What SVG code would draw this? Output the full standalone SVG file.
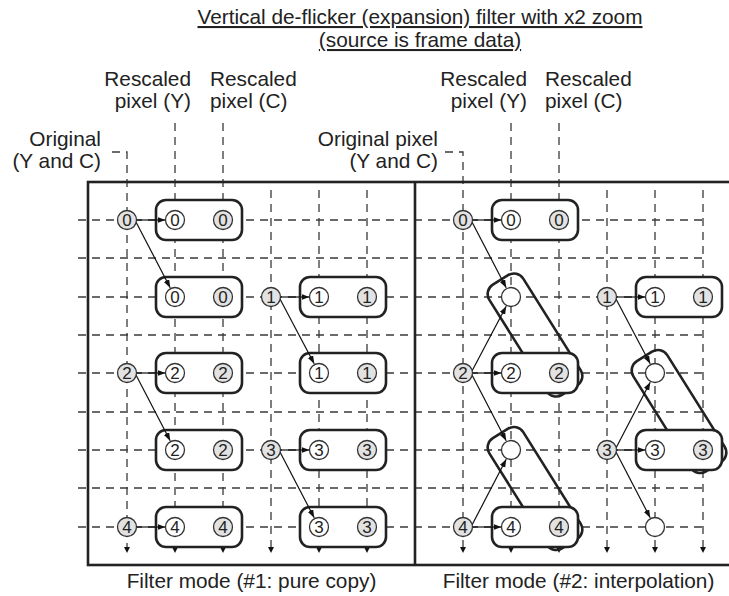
<svg xmlns="http://www.w3.org/2000/svg" width="729" height="596" viewBox="0 0 729 596">
<defs>
<marker id="ah" markerUnits="userSpaceOnUse" markerWidth="9" markerHeight="7" refX="8" refY="3" orient="auto"><path d="M0,0 L8,3 L0,6 z" fill="#111"/></marker>
<marker id="dh" markerUnits="userSpaceOnUse" markerWidth="8" markerHeight="7" refX="6" refY="3" orient="auto"><path d="M0,0 L6,3 L0,6 z" fill="#111"/></marker>
</defs>
<style>
text{font-family:"Liberation Sans",Arial,sans-serif;fill:#222}
.lbl{font-size:20.8px}
.dig{font-size:17px;text-anchor:middle}
.grid{stroke:#3a3a3a;stroke-width:1.3;stroke-dasharray:8 6;fill:none}
.vl{stroke:#3a3a3a;stroke-width:1.3;stroke-dasharray:8 6;fill:none;marker-end:url(#dh)}
.arr{stroke:#111;stroke-width:1.2;fill:none;marker-end:url(#ah)}
.box{fill:#fff;stroke:#222;stroke-width:2.6}
.sbox{fill:none;stroke:#222;stroke-width:2.6}
.g{fill:#e2e2e2;stroke:#333;stroke-width:1.3}
.w{fill:#fff;stroke:#333;stroke-width:1.3}
.frame{fill:none;stroke:#222;stroke-width:2.6}
</style>
<g id="titles">
<text class="lbl" x="420" y="24" text-anchor="middle" text-decoration="underline">Vertical de-flicker (expansion) filter with x2 zoom</text>
<text class="lbl" x="420" y="47" text-anchor="middle" text-decoration="underline">(source is frame data)</text>
<text class="lbl" x="191" y="86" text-anchor="end">Rescaled</text>
<text class="lbl" x="191" y="108" text-anchor="end">pixel (Y)</text>
<text class="lbl" x="210" y="86">Rescaled</text>
<text class="lbl" x="210" y="108">pixel (C)</text>
<text class="lbl" x="101" y="146" text-anchor="end">Original</text>
<text class="lbl" x="101" y="168" text-anchor="end">(Y and C)</text>
<text class="lbl" x="527" y="86" text-anchor="end">Rescaled</text>
<text class="lbl" x="527" y="108" text-anchor="end">pixel (Y)</text>
<text class="lbl" x="545" y="86">Rescaled</text>
<text class="lbl" x="545" y="108">pixel (C)</text>
<text class="lbl" x="438" y="146" text-anchor="end">Original pixel</text>
<text class="lbl" x="438" y="168" text-anchor="end">(Y and C)</text>
<text class="lbl" x="251.5" y="588" text-anchor="middle">Filter mode (#1: pure copy)</text>
<text class="lbl" x="578.5" y="588" text-anchor="middle">Filter mode (#2: interpolation)</text>
</g>
<g id="connectors">
<path class="grid" d="M78,220H703M78,258H703M78,297H703M78,335H703M78,373H703M78,412H703M78,450H703M78,488H703M78,527H703"/>
<path class="vl" d="M112,152H127V553"/>
<path class="vl" d="M445,152H463V553"/>
<path class="vl" d="M175,123V553"/>
<path class="vl" d="M223,123V553"/>
<path class="vl" d="M511,123V553"/>
<path class="vl" d="M559,123V553"/>
<path class="vl" d="M271,190V553"/>
<path class="vl" d="M319,190V553"/>
<path class="vl" d="M367,190V553"/>
<path class="vl" d="M607,190V553"/>
<path class="vl" d="M655,190V553"/>
<path class="vl" d="M703,190V553"/>
<rect class="frame" x="88" y="182" width="660" height="383"/>
<line x1="415" y1="182" x2="415" y2="565" stroke="#222" stroke-width="2.6"/>
</g>
<g id="slanted">
<rect class="sbox" x="-65" y="-20" width="130" height="40" rx="11" transform="translate(535,335) rotate(57.9)"/>
<rect class="sbox" x="-65" y="-20" width="130" height="40" rx="11" transform="translate(535,488.5) rotate(57.9)"/>
<rect class="sbox" x="-65" y="-20" width="130" height="40" rx="11" transform="translate(679,411.5) rotate(57.9)"/>
</g>
<g id="boxes">
<rect id="L-r0" class="box" x="156" y="200" width="86" height="40" rx="10"/>
<rect id="L-r1" class="box" x="156" y="277" width="86" height="40" rx="10"/>
<rect id="L-r2" class="box" x="156" y="353" width="86" height="40" rx="10"/>
<rect id="L-r3" class="box" x="156" y="430" width="86" height="40" rx="10"/>
<rect id="L-r4" class="box" x="156" y="507" width="86" height="40" rx="10"/>
<rect id="L2-r1" class="box" x="300" y="277" width="86" height="40" rx="10"/>
<rect id="L2-r2" class="box" x="300" y="353" width="86" height="40" rx="10"/>
<rect id="L2-r3" class="box" x="300" y="430" width="86" height="40" rx="10"/>
<rect id="L2-r4" class="box" x="300" y="507" width="86" height="40" rx="10"/>
<rect id="R-r0" class="box" x="492" y="200" width="86" height="40" rx="10"/>
<rect id="R-r2" class="box" x="492" y="353" width="86" height="40" rx="10"/>
<rect id="R-r4" class="box" x="492" y="507" width="86" height="40" rx="10"/>
<rect id="R2-r1" class="box" x="636" y="277" width="86" height="40" rx="10"/>
<rect id="R2-r3" class="box" x="636" y="430" width="86" height="40" rx="10"/>
</g>
<g id="arrows">
<path class="arr" d="M136.5,220H165.5"/>
<path class="arr" d="M136,222L170.2,287.7"/>
<path class="arr" d="M136.5,373H165.5"/>
<path class="arr" d="M136,375L170.2,440.7"/>
<path class="arr" d="M136.5,527H165.5"/>
<path class="arr" d="M280.5,297H309.5"/>
<path class="arr" d="M280,299L314.2,363.7"/>
<path class="arr" d="M280.5,450H309.5"/>
<path class="arr" d="M280,452L314.2,517.7"/>
<path class="arr" d="M472.5,220H501.5"/>
<path class="arr" d="M472,222L506.2,287.7"/>
<path class="arr" d="M472,371L506.2,306.3"/>
<path class="arr" d="M472.5,373H501.5"/>
<path class="arr" d="M472,375L506.2,440.7"/>
<path class="arr" d="M472,525L506.2,459.3"/>
<path class="arr" d="M472.5,527H501.5"/>
<path class="arr" d="M616.5,297H645.5"/>
<path class="arr" d="M616,299L650.2,363.7"/>
<path class="arr" d="M616,448L650.2,382.3"/>
<path class="arr" d="M616.5,450H645.5"/>
<path class="arr" d="M616,452L650.2,517.7"/>
</g>
<g id="pixels">
<g id="L-o0"><circle class="g" cx="127" cy="220" r="9.5"/><text class="dig" x="127" y="226">0</text></g>
<g id="L-o2"><circle class="g" cx="127" cy="373" r="9.5"/><text class="dig" x="127" y="379">2</text></g>
<g id="L-o4"><circle class="g" cx="127" cy="527" r="9.5"/><text class="dig" x="127" y="533">4</text></g>
<g id="L-o1"><circle class="g" cx="271" cy="297" r="9.5"/><text class="dig" x="271" y="303">1</text></g>
<g id="L-o3"><circle class="g" cx="271" cy="450" r="9.5"/><text class="dig" x="271" y="456">3</text></g>
<g id="L-y0"><circle class="w" cx="175" cy="220" r="9.5"/><text class="dig" x="175" y="226">0</text><circle class="g" cx="223" cy="220" r="9.5"/><text class="dig" x="223" y="226">0</text></g>
<g id="L-y1"><circle class="w" cx="175" cy="297" r="9.5"/><text class="dig" x="175" y="303">0</text><circle class="g" cx="223" cy="297" r="9.5"/><text class="dig" x="223" y="303">0</text></g>
<g id="L-y2"><circle class="w" cx="175" cy="373" r="9.5"/><text class="dig" x="175" y="379">2</text><circle class="g" cx="223" cy="373" r="9.5"/><text class="dig" x="223" y="379">2</text></g>
<g id="L-y3"><circle class="w" cx="175" cy="450" r="9.5"/><text class="dig" x="175" y="456">2</text><circle class="g" cx="223" cy="450" r="9.5"/><text class="dig" x="223" y="456">2</text></g>
<g id="L-y4"><circle class="w" cx="175" cy="527" r="9.5"/><text class="dig" x="175" y="533">4</text><circle class="g" cx="223" cy="527" r="9.5"/><text class="dig" x="223" y="533">4</text></g>
<g id="L2-y1"><circle class="w" cx="319" cy="297" r="9.5"/><text class="dig" x="319" y="303">1</text><circle class="g" cx="367" cy="297" r="9.5"/><text class="dig" x="367" y="303">1</text></g>
<g id="L2-y2"><circle class="w" cx="319" cy="373" r="9.5"/><text class="dig" x="319" y="379">1</text><circle class="g" cx="367" cy="373" r="9.5"/><text class="dig" x="367" y="379">1</text></g>
<g id="L2-y3"><circle class="w" cx="319" cy="450" r="9.5"/><text class="dig" x="319" y="456">3</text><circle class="g" cx="367" cy="450" r="9.5"/><text class="dig" x="367" y="456">3</text></g>
<g id="L2-y4"><circle class="w" cx="319" cy="527" r="9.5"/><text class="dig" x="319" y="533">3</text><circle class="g" cx="367" cy="527" r="9.5"/><text class="dig" x="367" y="533">3</text></g>
<g id="R-o0"><circle class="g" cx="463" cy="220" r="9.5"/><text class="dig" x="463" y="226">0</text></g>
<g id="R-o2"><circle class="g" cx="463" cy="373" r="9.5"/><text class="dig" x="463" y="379">2</text></g>
<g id="R-o4"><circle class="g" cx="463" cy="527" r="9.5"/><text class="dig" x="463" y="533">4</text></g>
<g id="R-o1"><circle class="g" cx="607" cy="297" r="9.5"/><text class="dig" x="607" y="303">1</text></g>
<g id="R-o3"><circle class="g" cx="607" cy="450" r="9.5"/><text class="dig" x="607" y="456">3</text></g>
<g id="R-y0"><circle class="w" cx="511" cy="220" r="9.5"/><text class="dig" x="511" y="226">0</text><circle class="g" cx="559" cy="220" r="9.5"/><text class="dig" x="559" y="226">0</text></g>
<g id="R-i1"><circle class="w" cx="511" cy="297" r="9.5"/></g>
<g id="R-y2"><circle class="w" cx="511" cy="373" r="9.5"/><text class="dig" x="511" y="379">2</text><circle class="g" cx="559" cy="373" r="9.5"/><text class="dig" x="559" y="379">2</text></g>
<g id="R-i3"><circle class="w" cx="511" cy="450" r="9.5"/></g>
<g id="R-y4"><circle class="w" cx="511" cy="527" r="9.5"/><text class="dig" x="511" y="533">4</text><circle class="g" cx="559" cy="527" r="9.5"/><text class="dig" x="559" y="533">4</text></g>
<g id="R2-y1"><circle class="w" cx="655" cy="297" r="9.5"/><text class="dig" x="655" y="303">1</text><circle class="g" cx="703" cy="297" r="9.5"/><text class="dig" x="703" y="303">1</text></g>
<g id="R2-i2"><circle class="w" cx="655" cy="373" r="9.5"/></g>
<g id="R2-y3"><circle class="w" cx="655" cy="450" r="9.5"/><text class="dig" x="655" y="456">3</text><circle class="g" cx="703" cy="450" r="9.5"/><text class="dig" x="703" y="456">3</text></g>
<g id="R2-i4"><circle class="w" cx="655" cy="527" r="9.5"/></g>
</g>
</svg>
